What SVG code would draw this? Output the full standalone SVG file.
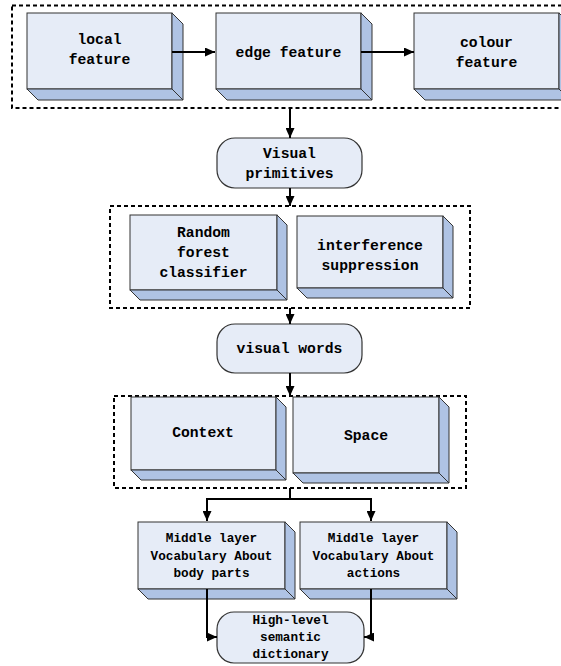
<svg xmlns="http://www.w3.org/2000/svg" width="561" height="666" viewBox="0 0 561 666">
<style>
.front{fill:#E6ECF7;stroke:#333;stroke-width:1}
.side{fill:#AFC3E4;stroke:#333;stroke-width:1;stroke-linejoin:round}
.pill{fill:#E6ECF7;stroke:#333;stroke-width:1.2}
.dash{fill:none;stroke:#000;stroke-width:2;stroke-dasharray:4 3}
.t{font-family:"Liberation Mono","Courier New",monospace;font-weight:bold;font-size:14.7px;fill:#000;text-anchor:middle}
.s{font-size:12.7px}
.c{fill:none;stroke:#000;stroke-width:2}
</style>
<defs>
<marker id="ah" markerUnits="userSpaceOnUse" markerWidth="11" markerHeight="9" refX="10" refY="4.5" orient="auto">
<path d="M0,0 L10,4.5 L0,9 z" fill="#000"/>
</marker>
</defs>
<rect class="dash" x="12" y="5.5" width="600" height="102.5"/>
<rect class="dash" x="110" y="206" width="360" height="102"/>
<rect class="dash" x="114" y="396" width="352" height="92"/>
<g id="local">
<rect class="front" x="27" y="13" width="145" height="76"/>
<polygon class="side" points="172,13 183,24 183,100 172,89"/>
<polygon class="side" points="27,89 172,89 183,100 38,100"/>
<text class="t" x="99.5" y="44">local</text>
<text class="t" x="99.5" y="64">feature</text>
</g>
<g id="edge">
<rect class="front" x="216" y="13" width="145" height="76"/>
<polygon class="side" points="361,13 372,24 372,100 361,89"/>
<polygon class="side" points="216,89 361,89 372,100 227,100"/>
<text class="t" x="288.5" y="57">edge feature</text>
</g>
<g id="colour">
<rect class="front" x="414" y="13" width="145" height="76"/>
<polygon class="side" points="559,13 570,24 570,100 559,89"/>
<polygon class="side" points="414,89 559,89 570,100 425,100"/>
<text class="t" x="486.5" y="47">colour</text>
<text class="t" x="486.5" y="67">feature</text>
</g>
<g id="primitives">
<rect class="pill" x="217" y="138" width="145" height="50" rx="18"/>
<text class="t" x="289.5" y="158">Visual</text>
<text class="t" x="289.5" y="178">primitives</text>
</g>
<g id="forest">
<rect class="front" x="130" y="215" width="147" height="75"/>
<polygon class="side" points="277,215 287,225 287,300 277,290"/>
<polygon class="side" points="130,290 277,290 287,300 140,300"/>
<text class="t" x="203.5" y="237">Random</text>
<text class="t" x="203.5" y="257">forest</text>
<text class="t" x="203.5" y="277">classifier</text>
</g>
<g id="interference">
<rect class="front" x="297" y="216" width="146" height="72"/>
<polygon class="side" points="443,216 453,226 453,298 443,288"/>
<polygon class="side" points="297,288 443,288 453,298 307,298"/>
<text class="t" x="370" y="250">interference</text>
<text class="t" x="370" y="270">suppression</text>
</g>
<g id="words">
<rect class="pill" x="217" y="324" width="145" height="49" rx="18"/>
<text class="t" x="289.5" y="353">visual words</text>
</g>
<g id="context">
<rect class="front" x="131" y="397" width="145" height="73"/>
<polygon class="side" points="276,397 286,407 286,480 276,470"/>
<polygon class="side" points="131,470 276,470 286,480 141,480"/>
<text class="t" x="203" y="437">Context</text>
</g>
<g id="space">
<rect class="front" x="293" y="397" width="146" height="76"/>
<polygon class="side" points="439,397 449,407 449,483 439,473"/>
<polygon class="side" points="293,473 439,473 449,483 303,483"/>
<text class="t" x="366" y="440">Space</text>
</g>
<g id="bodyparts">
<rect class="front" x="138" y="522" width="147" height="67"/>
<polygon class="side" points="285,522 295,532 295,599 285,589"/>
<polygon class="side" points="138,589 285,589 295,599 148,599"/>
<text class="t s" x="211.5" y="542">Middle layer</text>
<text class="t s" x="211.5" y="560">Vocabulary About</text>
<text class="t s" x="211.5" y="577">body parts</text>
</g>
<g id="actions">
<rect class="front" x="300" y="522" width="147" height="67"/>
<polygon class="side" points="447,522 457,532 457,599 447,589"/>
<polygon class="side" points="300,589 447,589 457,599 310,599"/>
<text class="t s" x="373.5" y="542">Middle layer</text>
<text class="t s" x="373.5" y="560">Vocabulary About</text>
<text class="t s" x="373.5" y="577">actions</text>
</g>
<g id="dictionary">
<rect class="pill" x="217" y="612" width="147" height="51" rx="17"/>
<text class="t s" x="290.5" y="624">High-level</text>
<text class="t s" x="290.5" y="641">semantic</text>
<text class="t s" x="290.5" y="658">dictionary</text>
</g>
<g id="connectors">
<line class="c" x1="172" y1="52" x2="215" y2="52" marker-end="url(#ah)"/>
<line class="c" x1="361" y1="52" x2="414" y2="52" marker-end="url(#ah)"/>
<line class="c" x1="290" y1="108" x2="290" y2="138" marker-end="url(#ah)"/>
<line class="c" x1="290" y1="188" x2="290" y2="206" marker-end="url(#ah)"/>
<line class="c" x1="290" y1="308" x2="290" y2="324" marker-end="url(#ah)"/>
<line class="c" x1="290" y1="373" x2="290" y2="396" marker-end="url(#ah)"/>
<path class="c" d="M290,488 V499 H207 V521" marker-end="url(#ah)"/>
<path class="c" d="M290,499 H371 V521" marker-end="url(#ah)"/>
<path class="c" d="M207,589 V637 H217" marker-end="url(#ah)"/>
<path class="c" d="M371,589 V637 H364" marker-end="url(#ah)"/>
</g>
</svg>
